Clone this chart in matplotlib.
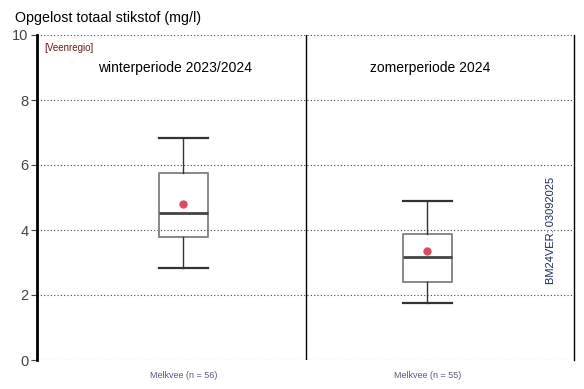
import matplotlib
matplotlib.use("Agg")
import matplotlib.pyplot as plt

plt.rcParams['font.family'] = ['Liberation Sans', 'DejaVu Sans']

# box statistics (mg/l)
groups = ['Melkvee (n = 56)', 'Melkvee (n = 55)']
periods = ['winterperiode 2023/2024', 'zomerperiode 2024']
whislo = [2.82, 1.74]
q1 = [3.79, 2.41]
med = [4.53, 3.16]
q3 = [5.76, 3.87]
whishi = [6.83, 4.90]
means = [4.80, 3.34]
positions = [0.545, 1.454]

stats = []
for i in range(len(groups)):
    stats.append({'whislo': whislo[i], 'q1': q1[i], 'med': med[i], 'q3': q3[i],
                  'whishi': whishi[i], 'mean': means[i], 'fliers': []})

fig = plt.figure(figsize=(5.84, 3.89), dpi=100)
ax = fig.add_axes([37/584, 29/389, 537/584, 325/389])

ax.bxp(stats, positions=positions, widths=0.183, capwidths=0.183, showmeans=True,
       boxprops=dict(color='#888888', linewidth=1.4),
       medianprops=dict(color='#444444', linewidth=2),
       whiskerprops=dict(color='#333333', linewidth=1),
       capprops=dict(color='#333333', linewidth=1.6),
       meanprops=dict(marker='o', markersize=5, markerfacecolor='#df4a62',
                      markeredgecolor='#df4a62'))

ax.set_xlim(0, 2)
ax.set_ylim(0, 10)
for y in [0, 2, 4, 6, 8, 10]:
    ax.axhline(y, color='#444444', linestyle=(0, (1, 2)), linewidth=0.8, zorder=0)
ax.axvline(1, color='black', linewidth=1)

ax.set_yticks([0, 2, 4, 6, 8, 10])
ax.tick_params(axis='y', labelsize=10.5, colors='#444444', length=4, width=0.8, pad=2)
ax.tick_params(axis='x', length=0, labelsize=6.5, labelcolor='#5a5a78', pad=8)
ax.set_xticks(positions)
ax.set_xticklabels(groups)

ax.spines['top'].set_visible(False)
ax.spines['bottom'].set_visible(False)
ax.spines['left'].set_linewidth(2)
ax.spines['right'].set_linewidth(1)

tr = ax.get_xaxis_transform()
fig.text(15/584, 1 - 18/389, 'Opgelost totaal stikstof (mg/l)', fontsize=10.3,
         va='center', ha='left')
ax.text(0.026, 0.96, '[Veenregio]', transform=tr, fontsize=7,
        color='#6b1a1a', va='center')
ax.text(0.514, 0.899, periods[0], transform=tr, fontsize=10,
        ha='center', va='center')
ax.text(1.464, 0.899, periods[1], transform=tr, fontsize=10,
        ha='center', va='center')
ax.text(1.915, 4.0, 'BM24VER: 03092025', fontsize=8, rotation=90,
        color='#1a2a5a', ha='center', va='center')

fig.savefig('out.png', dpi=100)
